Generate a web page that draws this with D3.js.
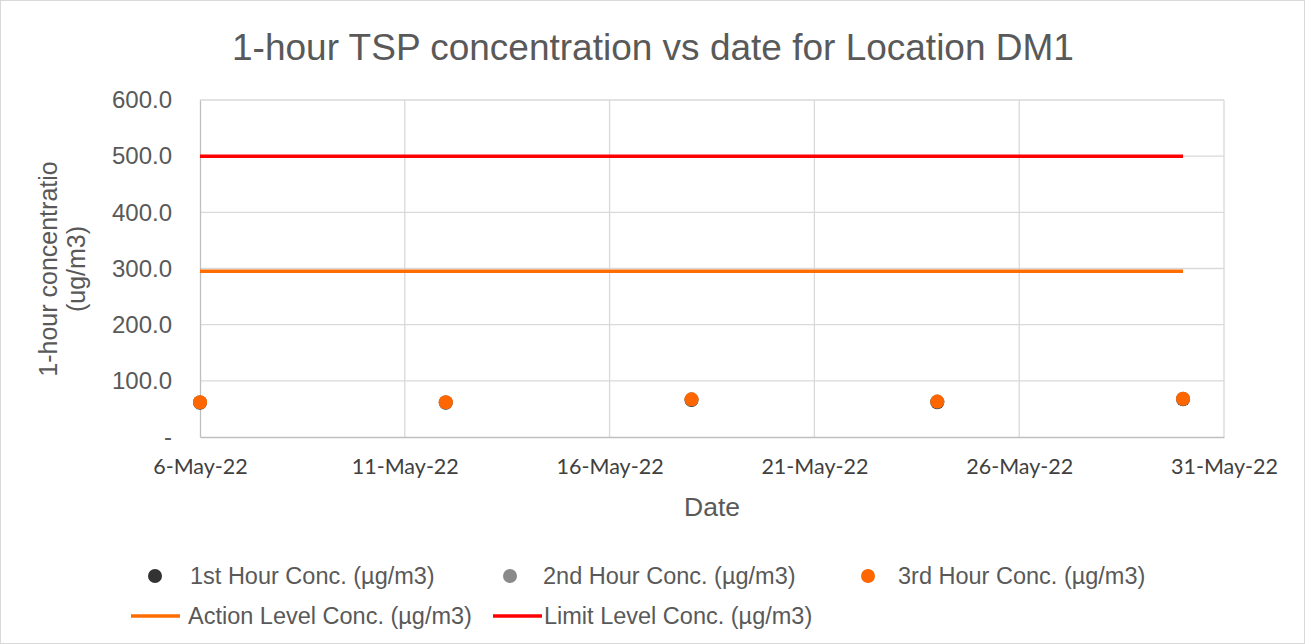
<!DOCTYPE html>
<html>
<head>
<meta charset="utf-8">
<script src="https://cdn.jsdelivr.net/npm/d3@7"></script>
<style>
  body { margin: 0; background: #fff; }
  svg { display: block; font-family: "Liberation Sans", Arial, sans-serif; }
</style>
</head>
<body>
<svg id="chart" width="1305" height="644"></svg>
<script>
// data
const dates = ["2022-05-06", "2022-05-12", "2022-05-18", "2022-05-24", "2022-05-30"];
const hour1 = [61, 61, 66, 62, 67];
const hour2 = [62, 62, 67, 63, 68];
const hour3 = [62, 62, 67, 63, 68];
const actionLevel = [295, 295, 295, 295, 295];
const limitLevel = [500, 500, 500, 500, 500];
const xTicks = ["2022-05-06", "2022-05-11", "2022-05-16", "2022-05-21", "2022-05-26", "2022-05-31"];
const yTicks = [0, 100, 200, 300, 400, 500, 600];

const parse = d3.timeParse("%Y-%m-%d");
const svg = d3.select("#chart");
const W = 1305, H = 644;
const m = { left: 200, right: 1224, top: 100, bottom: 437 };

svg.append("rect").attr("x", 0.5).attr("y", 0.5).attr("width", W - 1).attr("height", H - 1)
  .attr("fill", "#fff").attr("stroke", "#d9d9d9");

const x = d3.scaleTime().domain([parse(xTicks[0]), parse(xTicks[xTicks.length - 1])]).range([m.left, m.right]);
const y = d3.scaleLinear().domain([0, 600]).range([m.bottom, m.top]);

// gridlines
svg.append("g").selectAll("line.h").data(yTicks.slice(1)).join("line")
  .attr("x1", m.left).attr("x2", m.right)
  .attr("y1", d => y(d)).attr("y2", d => y(d))
  .attr("stroke", "#d9d9d9").attr("stroke-width", 1.3);
svg.append("g").selectAll("line.v").data(xTicks.slice(1)).join("line")
  .attr("x1", d => x(parse(d))).attr("x2", d => x(parse(d)))
  .attr("y1", m.top).attr("y2", m.bottom)
  .attr("stroke", "#d9d9d9").attr("stroke-width", 1.3);

// axes
const yAxis = svg.append("g").attr("transform", `translate(${m.left},0)`)
  .call(d3.axisLeft(y).tickValues(yTicks).tickSize(0).tickPadding(28)
    .tickFormat(d => d === 0 ? "-" : d3.format(".1f")(d)));
yAxis.select(".domain").attr("stroke", "#bfbfbf").attr("stroke-width", 1.3);
yAxis.selectAll("text").attr("fill", "#595959").style("font-size", "24px")
  .style("font-family", "'Liberation Sans', Arial, sans-serif");

const xAxis = svg.append("g").attr("transform", `translate(0,${m.bottom})`)
  .call(d3.axisBottom(x).tickValues(xTicks.map(parse)).tickSize(0).tickPadding(22)
    .tickFormat(d3.timeFormat("%-d-%b-%y")));
xAxis.select(".domain").attr("stroke", "#bfbfbf").attr("stroke-width", 1.3);
xAxis.selectAll("text").attr("fill", "#404040").style("font-size", "21.5px")
  .style("font-family", "Lato, 'Open Sans', sans-serif");

// level lines
const line = d3.line().x((d, i) => x(parse(dates[i]))).y(d => y(d));
svg.append("path").datum(actionLevel).attr("d", line)
  .attr("fill", "none").attr("stroke", "#ff6d00").attr("stroke-width", 3.5);
svg.append("path").datum(limitLevel).attr("d", line)
  .attr("fill", "none").attr("stroke", "#ff0000").attr("stroke-width", 3.5);

// scatter series
const series = [
  { vals: hour1, color: "#333333" },
  { vals: hour2, color: "#8a8a8a" },
  { vals: hour3, color: "#ff6600" }
];
series.forEach(s => {
  svg.append("g").selectAll("circle").data(s.vals).join("circle")
    .attr("cx", (d, i) => x(parse(dates[i])))
    .attr("cy", d => y(d))
    .attr("r", 7)
    .attr("fill", s.color);
});

// titles
svg.append("text").attr("x", 653).attr("y", 60).attr("text-anchor", "middle")
  .attr("fill", "#595959").style("font-size", "37px")
  .text("1-hour TSP concentration vs date for Location DM1");
svg.append("text").attr("x", 712).attr("y", 516).attr("text-anchor", "middle")
  .attr("fill", "#595959").style("font-size", "26.5px").text("Date");
const yt = svg.append("text").attr("transform", "translate(57,269) rotate(-90)")
  .attr("text-anchor", "middle").attr("fill", "#595959").style("font-size", "25px");
yt.append("tspan").attr("x", 0).attr("dy", 0).text("1-hour concentratio");
yt.append("tspan").attr("x", 0).attr("dy", 28).text("(ug/m3)");

// legend
const legendDots = [
  { label: "1st Hour Conc. (µg/m3)", color: "#333333", mx: 155, tx: 190 },
  { label: "2nd Hour Conc. (µg/m3)", color: "#8a8a8a", mx: 510, tx: 543 },
  { label: "3rd Hour Conc. (µg/m3)", color: "#ff6600", mx: 868, tx: 898 }
];
legendDots.forEach(l => {
  svg.append("circle").attr("cx", l.mx).attr("cy", 576).attr("r", 7).attr("fill", l.color);
  svg.append("text").attr("x", l.tx).attr("y", 584).attr("fill", "#595959")
    .style("font-size", "23.5px").text(l.label);
});
const legendLines = [
  { label: "Action Level Conc. (µg/m3)", color: "#ff6d00", x1: 131, x2: 180, tx: 188 },
  { label: "Limit Level Conc. (µg/m3)", color: "#ff0000", x1: 493, x2: 542, tx: 544 }
];
legendLines.forEach(l => {
  svg.append("line").attr("x1", l.x1).attr("x2", l.x2).attr("y1", 616).attr("y2", 616)
    .attr("stroke", l.color).attr("stroke-width", 3.5);
  svg.append("text").attr("x", l.tx).attr("y", 624).attr("fill", "#595959")
    .style("font-size", "23.5px").text(l.label);
});
</script>
</body>
</html>
